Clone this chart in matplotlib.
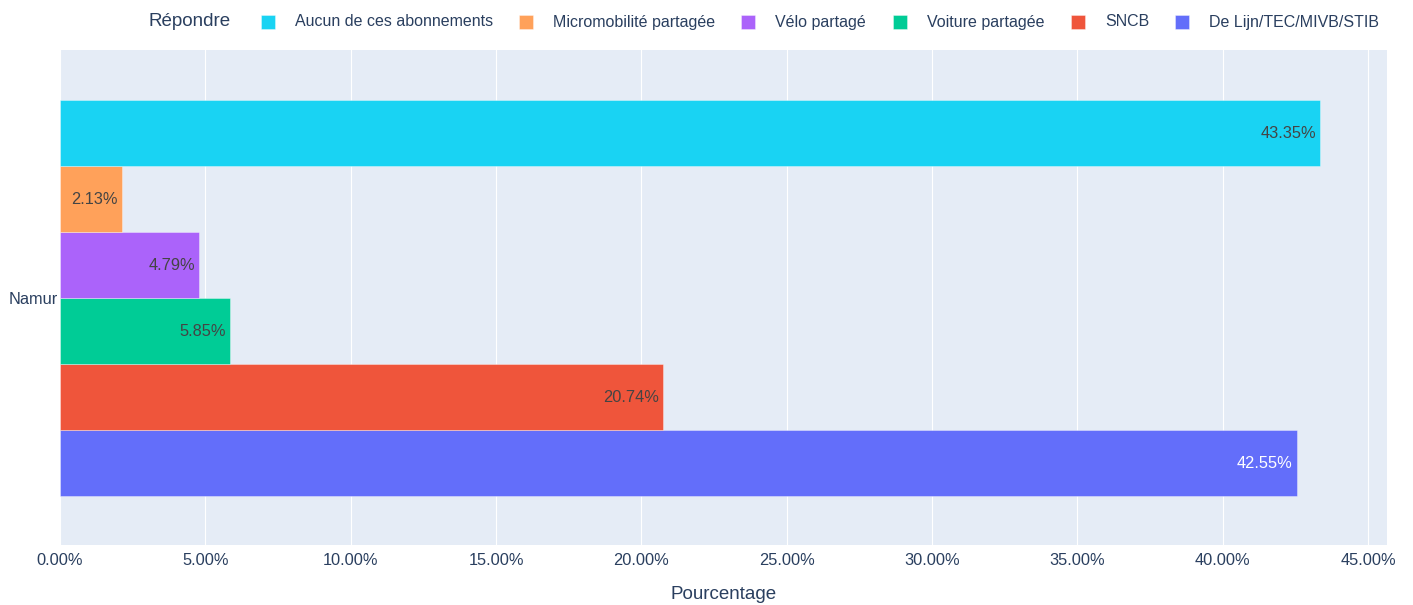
import matplotlib
matplotlib.use("Agg")
import matplotlib.pyplot as plt
from matplotlib.patches import Rectangle

plt.rcParams['font.family'] = ['Liberation Sans', 'DejaVu Sans']

category = "Namur"
# series in plotting order (bottom to top)
series = ["De Lijn/TEC/MIVB/STIB", "SNCB", "Voiture partagée", "Vélo partagé",
          "Micromobilité partagée", "Aucun de ces abonnements"]
values = [42.55, 20.74, 5.85, 4.79, 2.13, 43.35]
colors = ["#636efa", "#EF553B", "#00cc96", "#ab63fa", "#FFA15A", "#19d3f3"]
text_colors = ["white", "#444444", "#444444", "#444444", "#444444", "#444444"]
xticks = [0, 5, 10, 15, 20, 25, 30, 35, 40, 45]

W, H = 1413, 605
fig = plt.figure(figsize=(W / 100, H / 100), dpi=100)
L, R, T, B = 60, 1387, 50, 545
ax = fig.add_axes([L / W, 1 - B / H, (R - L) / W, (B - T) / H])
ax.set_facecolor("#E5ECF6")
for s in ax.spines.values():
    s.set_visible(False)

n = len(series)
group = 0.8
bw = group / n
for i, (name, v, c, tc) in enumerate(zip(series, values, colors, text_colors)):
    y = -group / 2 + bw * (i + 0.5)
    ax.barh(y, v, height=bw, color=c, edgecolor=(1, 1, 1, 0.5), linewidth=0.5, zorder=3)
    ax.annotate(f"{v:.2f}%", xy=(v, y), xytext=(-3, -1), textcoords="offset points",
                ha="right", va="center", color=tc, fontsize=11.8, zorder=4)

ax.set_xlim(0, 45.65)
ax.set_ylim(-0.5, 0.5)
ax.set_xticks(xticks)
ax.set_xticklabels([f"{t:.2f}%" for t in xticks])
ax.set_yticks([0])
ax.set_yticklabels([category])
ax.tick_params(axis="both", length=0, colors="#2a3f5f", labelsize=11.8)
ax.tick_params(axis="x", pad=6)
ax.tick_params(axis="y", pad=1.5)
ax.grid(axis="x", color="white", linewidth=0.8, zorder=0)
ax.set_axisbelow(True)
ax.set_xlabel("Pourcentage", color="#2a3f5f", fontsize=13.5, labelpad=13)

# legend (horizontal, top)
fig.text(148 / W, 1 - 21 / H, "Répondre", color="#2a3f5f", fontsize=13.5, ha="left", va="center")
legend_order = list(reversed(range(n)))
sq_x = [261, 519, 741, 893, 1071, 1175]
for k, idx in enumerate(legend_order):
    x0 = sq_x[k]
    fig.patches.append(Rectangle((x0 / W, 1 - 29 / H), 14 / W, 14 / H, transform=fig.transFigure,
                                 facecolor=colors[idx], edgecolor=(1, 1, 1, 0.5), linewidth=0.5))
    fig.text((x0 + 34) / W, 1 - 22 / H, series[idx], color="#2a3f5f", fontsize=11.5,
             ha="left", va="center")

fig.savefig("out.png", dpi=100, facecolor="white")
